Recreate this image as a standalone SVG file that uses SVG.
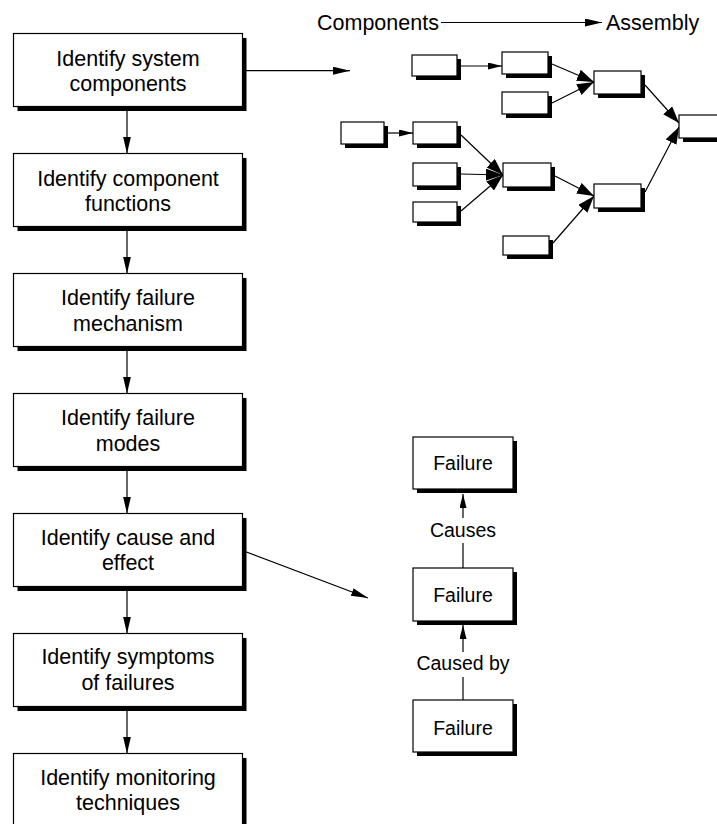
<svg xmlns="http://www.w3.org/2000/svg" width="717" height="824" viewBox="0 0 717 824">
  <style>
    .sh { fill: #000; }
    .bx { fill: #fff; stroke: #000; stroke-width: 1.2; }
    .ln { fill: none; stroke: #000; stroke-width: 1.2; }
    .t  { font-family: "Liberation Sans", Arial, Helvetica, sans-serif; font-size: 21.5px; fill: #000; }
    .tc { text-anchor: middle; }
    .tf { font-family: "Liberation Sans", Arial, Helvetica, sans-serif; font-size: 19.5px; fill: #000; text-anchor: middle; }
  </style>
  <defs>
    <marker id="ah" markerUnits="userSpaceOnUse" markerWidth="18" markerHeight="10" refX="17" refY="4" orient="auto">
      <path d="M0,0 L17,4 L0,8 Z" fill="#000"/>
    </marker>
    <marker id="ahs" markerUnits="userSpaceOnUse" markerWidth="15" markerHeight="8" refX="14" refY="3.5" orient="auto">
      <path d="M0,0 L14,3.5 L0,7 Z" fill="#000"/>
    </marker>
    <marker id="ahb" markerUnits="userSpaceOnUse" markerWidth="18" markerHeight="13" refX="17" refY="6" orient="auto">
      <path d="M0,0 L17,6 L0,12 Z" fill="#000"/>
    </marker>
  </defs>

  <rect width="717" height="824" fill="#fff"/>

  <!-- connectors -->
  <g id="connectors">
    <!-- main process chain -->
    <line class="ln" x1="127" y1="106.5" x2="127" y2="153.5" marker-end="url(#ah)"/>
    <line class="ln" x1="127" y1="226.5" x2="127" y2="273.5" marker-end="url(#ah)"/>
    <line class="ln" x1="127" y1="346.5" x2="127" y2="393.5" marker-end="url(#ah)"/>
    <line class="ln" x1="127" y1="466.5" x2="127" y2="513.5" marker-end="url(#ah)"/>
    <line class="ln" x1="127" y1="586.5" x2="127" y2="633.5" marker-end="url(#ah)"/>
    <line class="ln" x1="127" y1="706.5" x2="127" y2="753.5" marker-end="url(#ah)"/>
    <!-- pointers to the side panels -->
    <line class="ln" x1="242.5" y1="70.7" x2="350" y2="70.7" marker-end="url(#ah)"/>
    <line class="ln" x1="242.5" y1="550.5" x2="368" y2="598" marker-end="url(#ah)"/>
    <!-- Components to Assembly -->
    <line class="ln" x1="441" y1="22.5" x2="602" y2="22.5" marker-end="url(#ah)"/>
    <!-- assembly network -->
    <line class="ln" x1="461" y1="66" x2="502" y2="66" marker-end="url(#ahs)"/>
    <line class="ln" x1="388" y1="133" x2="413" y2="133" marker-end="url(#ahs)"/>
    <line class="ln" x1="552" y1="64" x2="594" y2="82" marker-end="url(#ahb)"/>
    <line class="ln" x1="552" y1="103" x2="594" y2="82" marker-end="url(#ahb)"/>
    <line class="ln" x1="645" y1="85" x2="679" y2="123" marker-end="url(#ahb)"/>
    <line class="ln" x1="645" y1="192" x2="679" y2="127" marker-end="url(#ahb)"/>
    <line class="ln" x1="461" y1="135" x2="503" y2="175" marker-end="url(#ahb)"/>
    <line class="ln" x1="461" y1="174" x2="503" y2="175" marker-end="url(#ahb)"/>
    <line class="ln" x1="461" y1="211" x2="503" y2="175" marker-end="url(#ahb)"/>
    <line class="ln" x1="555" y1="176" x2="594" y2="196" marker-end="url(#ahb)"/>
    <line class="ln" x1="553" y1="243" x2="594" y2="196" marker-end="url(#ahb)"/>
    <!-- failure chain -->
    <line class="ln" x1="463" y1="568" x2="463" y2="543"/>
    <line class="ln" x1="463" y1="518" x2="463" y2="494" marker-end="url(#ahs)"/>
    <line class="ln" x1="463" y1="700" x2="463" y2="677"/>
    <line class="ln" x1="463" y1="652" x2="463" y2="625" marker-end="url(#ahs)"/>
  </g>

  <!-- process steps -->
  <g id="step-system-components">
    <rect class="sh" x="17.5" y="38" width="229" height="73"/>
    <rect class="bx" x="13.5" y="33.5" width="229" height="73"/>
    <text class="t tc" x="128" y="66">Identify system</text>
    <text class="t tc" x="128" y="91">components</text>
  </g>
  <g id="step-component-functions">
    <rect class="sh" x="17.5" y="158" width="229" height="73"/>
    <rect class="bx" x="13.5" y="153.5" width="229" height="73"/>
    <text class="t tc" x="128" y="186">Identify component</text>
    <text class="t tc" x="128" y="211">functions</text>
  </g>
  <g id="step-failure-mechanism">
    <rect class="sh" x="17.5" y="278" width="229" height="73"/>
    <rect class="bx" x="13.5" y="273.5" width="229" height="73"/>
    <text class="t tc" x="128" y="305">Identify failure</text>
    <text class="t tc" x="128" y="330.5">mechanism</text>
  </g>
  <g id="step-failure-modes">
    <rect class="sh" x="17.5" y="398" width="229" height="73"/>
    <rect class="bx" x="13.5" y="393.5" width="229" height="73"/>
    <text class="t tc" x="128" y="424.5">Identify failure</text>
    <text class="t tc" x="128" y="450.5">modes</text>
  </g>
  <g id="step-cause-effect">
    <rect class="sh" x="17.5" y="518" width="229" height="73"/>
    <rect class="bx" x="13.5" y="513.5" width="229" height="73"/>
    <text class="t tc" x="128" y="544.5">Identify cause and</text>
    <text class="t tc" x="128" y="570">effect</text>
  </g>
  <g id="step-symptoms">
    <rect class="sh" x="17.5" y="638" width="229" height="73"/>
    <rect class="bx" x="13.5" y="633.5" width="229" height="73"/>
    <text class="t tc" x="128" y="664">Identify symptoms</text>
    <text class="t tc" x="128" y="689.5">of failures</text>
  </g>
  <g id="step-monitoring">
    <rect class="sh" x="17.5" y="758" width="229" height="73"/>
    <rect class="bx" x="13.5" y="753.5" width="229" height="73"/>
    <text class="t tc" x="128" y="784.5">Identify monitoring</text>
    <text class="t tc" x="128" y="810">techniques</text>
  </g>

  <!-- assembly header -->
  <g id="label-components">
    <text class="t" x="317" y="30">Components</text>
  </g>
  <g id="label-assembly">
    <text class="t" x="606" y="30">Assembly</text>
  </g>

  <!-- assembly network parts -->
  <g id="part-a"><rect class="sh" x="416" y="59" width="45" height="21"/><rect class="bx" x="412" y="55" width="45" height="21"/></g>
  <g id="part-b"><rect class="sh" x="506" y="56" width="46" height="22"/><rect class="bx" x="502" y="52" width="46" height="22"/></g>
  <g id="part-c"><rect class="sh" x="506" y="96" width="46" height="22"/><rect class="bx" x="502" y="92" width="46" height="22"/></g>
  <g id="part-d"><rect class="sh" x="598" y="75" width="47" height="23"/><rect class="bx" x="594" y="71" width="47" height="23"/></g>
  <g id="part-e"><rect class="sh" x="683" y="119" width="44" height="23"/><rect class="bx" x="679" y="115" width="44" height="23"/></g>
  <g id="part-f"><rect class="sh" x="345" y="126" width="43" height="22"/><rect class="bx" x="341" y="122" width="43" height="22"/></g>
  <g id="part-g"><rect class="sh" x="417" y="126" width="44" height="22"/><rect class="bx" x="413" y="122" width="44" height="22"/></g>
  <g id="part-h"><rect class="sh" x="417" y="167" width="44" height="23"/><rect class="bx" x="413" y="163" width="44" height="23"/></g>
  <g id="part-i"><rect class="sh" x="417" y="206" width="44" height="20"/><rect class="bx" x="413" y="202" width="44" height="20"/></g>
  <g id="part-j"><rect class="sh" x="507" y="167" width="48" height="24"/><rect class="bx" x="503" y="163" width="48" height="24"/></g>
  <g id="part-k"><rect class="sh" x="598" y="188" width="47" height="24"/><rect class="bx" x="594" y="184" width="47" height="24"/></g>
  <g id="part-l"><rect class="sh" x="507" y="240" width="46" height="19"/><rect class="bx" x="503" y="236" width="46" height="19"/></g>

  <!-- failure chain -->
  <g id="failure-top">
    <rect class="sh" x="417" y="441" width="100" height="52"/>
    <rect class="bx" x="413" y="437" width="100" height="52"/>
    <text class="tf" x="463" y="470">Failure</text>
  </g>
  <g id="label-causes">
    <text class="tf" x="463" y="537">Causes</text>
  </g>
  <g id="failure-middle">
    <rect class="sh" x="417" y="572" width="100" height="53"/>
    <rect class="bx" x="413" y="568" width="100" height="53"/>
    <text class="tf" x="463" y="601.5">Failure</text>
  </g>
  <g id="label-caused-by">
    <text class="tf" x="463" y="670">Caused by</text>
  </g>
  <g id="failure-bottom">
    <rect class="sh" x="417" y="704" width="100" height="52"/>
    <rect class="bx" x="413" y="700" width="100" height="52"/>
    <text class="tf" x="463" y="734.5">Failure</text>
  </g>
</svg>
